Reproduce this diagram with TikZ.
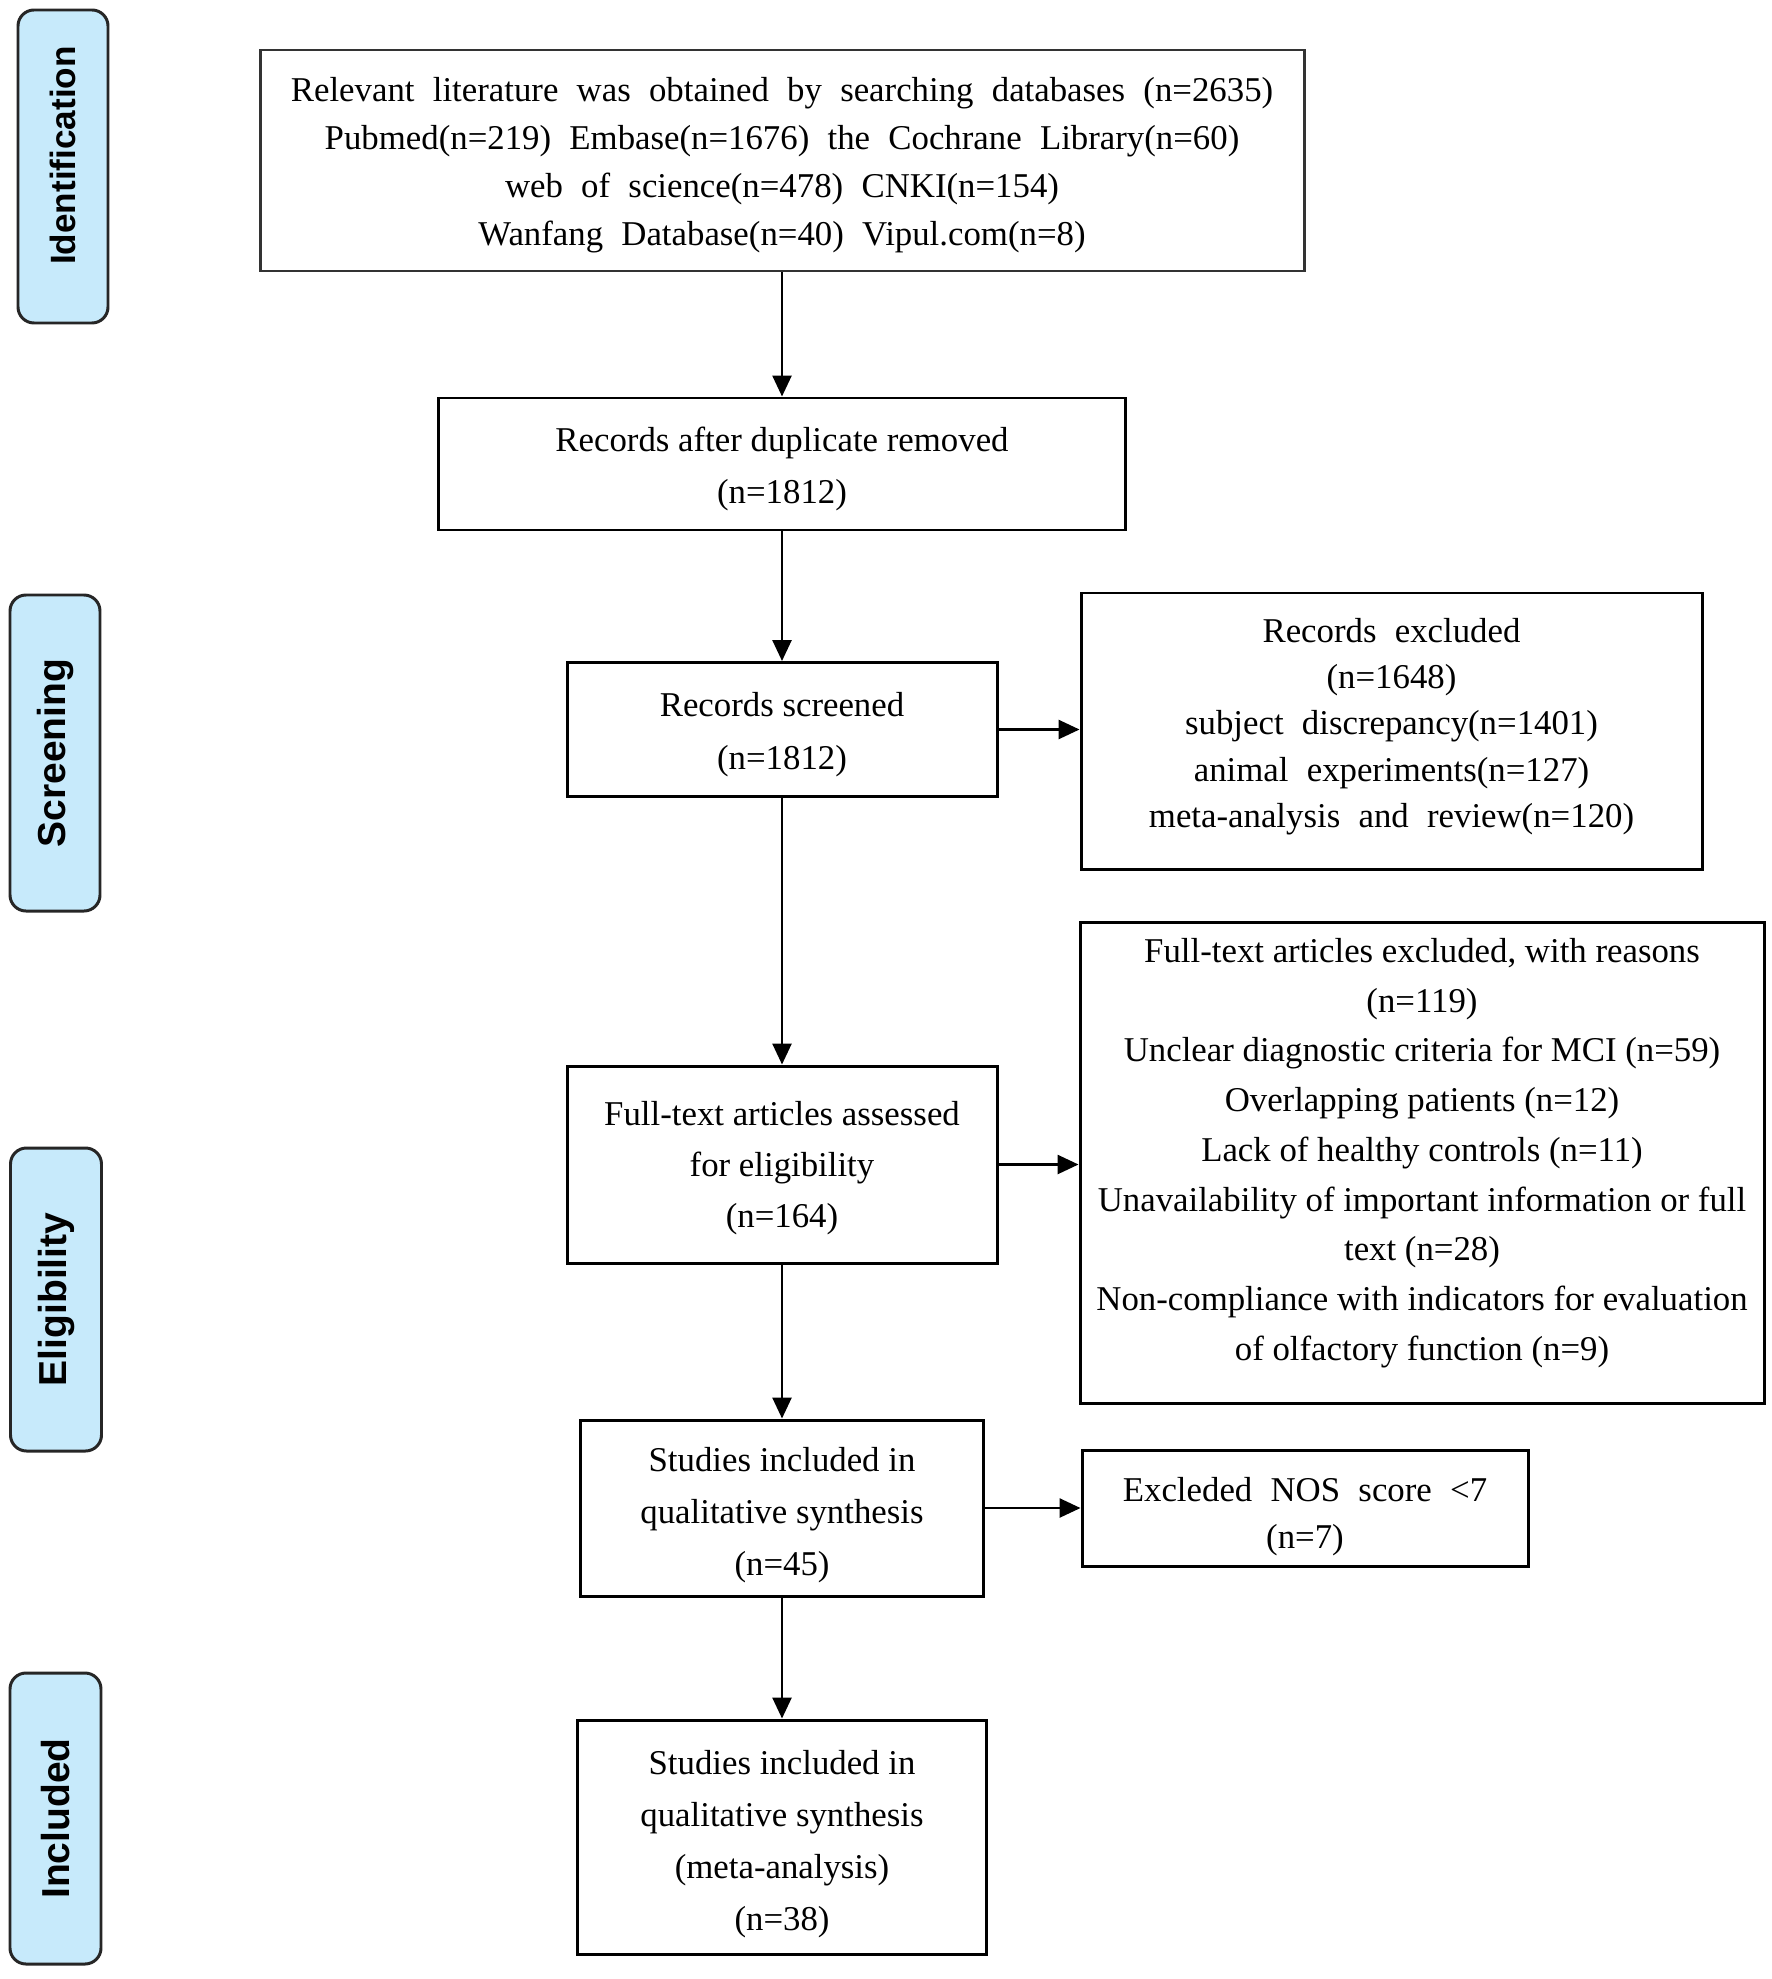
\documentclass[tikz,border=0pt]{standalone}
\usepackage{fontspec}
\setmainfont{Liberation Serif}
\newfontfamily\widefont[WordSpace=2.1]{Liberation Serif}
\newfontfamily\labelfont{Liberation Sans}
\usetikzlibrary{arrows.meta}
\definecolor{stageblue}{RGB}{199,234,251}
\begin{document}
\begin{tikzpicture}[x=0.1mm,y=-0.1mm,
  box/.style={draw=black, line width=0.85pt, inner sep=0pt},
  txt/.style={align=center, inner sep=0pt, font=\fontsize{9.9pt}{14.6pt}\selectfont},
  widetxt/.style={align=center, inner sep=0pt, font=\widefont\fontsize{9.9pt}{13.5pt}\selectfont},
  stage/.style={draw=black!85, line width=0.85pt, fill=stageblue, rounded corners=1.6mm, inner sep=0pt, rotate=90,
    font=\labelfont\bfseries\fontsize{11.1pt}{13pt}\selectfont},
  arr/.style={-{Triangle[length=2.1mm,width=1.9mm]}, line width=0.75pt}]
\useasboundingbox (0,0) rectangle (1772,1979);

% stage labels
\node[stage, minimum width=31.3mm, minimum height=9.0mm, font=\labelfont\bfseries\fontsize{10pt}{12pt}\selectfont] (s1) at (63,166.5) {\hspace*{2.2mm}Identification};
\node[stage, minimum width=31.6mm, minimum height=9.0mm] (s2) at (55,753) {Screening};
\node[stage, minimum width=30.3mm, minimum height=9.1mm] (s3) at (56,1299.5) {Eligibility};
\node[stage, minimum width=29.1mm, minimum height=9.1mm] (s4) at (55.5,1818.5) {Included};

% boxes
\node[box, draw=black!80, minimum width=104.4mm, minimum height=22.1mm] (b1) at (782,160.5) {};
\node[widetxt, font=\widefont\fontsize{9.9pt}{13.7pt}\selectfont] (b1t) at ([yshift=-0.45mm]b1.center) {Relevant literature was obtained by searching databases (n=2635)\\Pubmed(n=219) Embase(n=1676) the Cochrane Library(n=60)\\web of science(n=478) CNKI(n=154)\\Wanfang Database(n=40) Vipul.com(n=8)};

\node[box, minimum width=68.7mm, minimum height=13.2mm] (b2) at (782,464) {};
\node[txt] (b2t) at ([yshift=-0.5mm]b2.center) {Records after duplicate removed\\(n=1812)};

\node[box, minimum width=43.0mm, minimum height=13.4mm] (b3) at (782,729.5) {};
\node[txt, font=\fontsize{9.9pt}{15pt}\selectfont] (b3t) at ([yshift=-0.5mm]b3.center) {Records screened\\(n=1812)};

\node[box, minimum width=62.1mm, minimum height=27.6mm] (b4) at (1391.5,731) {};
\node[widetxt, font=\widefont\fontsize{9.9pt}{13.2pt}\selectfont] (b4t) at ([yshift=0.45mm]b4.center) {Records excluded\\(n=1648)\\subject discrepancy(n=1401)\\animal experiments(n=127)\\meta-analysis and review(n=120)};

\node[box, minimum width=43.0mm, minimum height=19.7mm] (b5) at (782,1164.5) {};
\node[txt] (b5t) at ([yshift=-0.35mm]b5.center) {Full-text articles assessed\\for eligibility\\(n=164)};

\node[box, minimum width=68.4mm, minimum height=48.1mm] (b6) at (1422,1162.5) {};
\node[txt, font=\fontsize{9.9pt}{14.15pt}\selectfont] (b6t) at ([yshift=0.95mm]b6.center) {Full-text articles excluded, with reasons\\(n=119)\\Unclear diagnostic criteria for MCI (n=59)\\Overlapping patients (n=12)\\Lack of healthy controls (n=11)\\Unavailability of important information or full\\text (n=28)\\Non-compliance with indicators for evaluation\\of olfactory function (n=9)};

\node[box, minimum width=40.3mm, minimum height=17.6mm] (b7) at (782,1508) {};
\node[txt, font=\fontsize{9.9pt}{14.8pt}\selectfont] (b7t) at ([yshift=-0.7mm]b7.center) {Studies included in\\qualitative synthesis\\(n=45)};

\node[box, minimum width=44.6mm, minimum height=11.6mm] (b8) at (1305,1508) {};
\node[widetxt, font=\widefont\fontsize{9.9pt}{13.2pt}\selectfont] (b8t) at ([yshift=-0.85mm]b8.center) {Excleded NOS score <7\\(n=7)};

\node[box, minimum width=40.9mm, minimum height=23.4mm] (b9) at (782,1837) {};
\node[txt, font=\fontsize{9.9pt}{14.8pt}\selectfont] (b9t) at ([yshift=-0.7mm]b9.center) {Studies included in\\qualitative synthesis\\(meta-analysis)\\(n=38)};

% connectors
\draw[arr] (b1) -- (b2);
\draw[arr] (b2) -- (b3);
\draw[arr] (b3) -- (b5);
\draw[arr] (b5) -- (b7);
\draw[arr] (b7) -- (b9);
\draw[arr] (b3.east) -- (b3.east -| b4.west);
\draw[arr] (b5.east) -- (b5.east -| b6.west);
\draw[arr] (b7.east) -- (b7.east -| b8.west);
\end{tikzpicture}
\end{document}
